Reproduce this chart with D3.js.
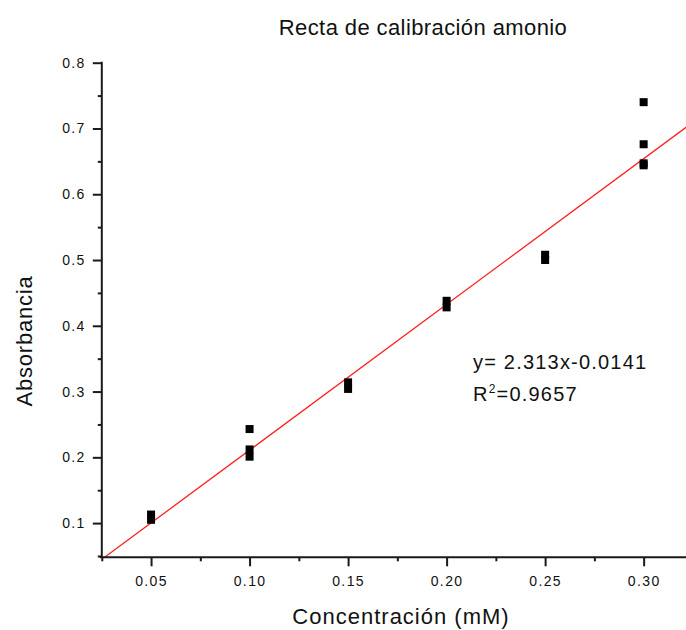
<!DOCTYPE html>
<html>
<head>
<meta charset="utf-8">
<script src="https://cdn.jsdelivr.net/npm/d3@7"></script>
<style>
  html, body { margin: 0; padding: 0; background: #fff; }
  svg { display: block; }
  text { font-family: Arial, "Liberation Sans", sans-serif; fill: #111; }
</style>
</head>
<body>
<svg id="chart" width="686" height="630"></svg>
<script>
// ---- data ----
const concentrations = [0.05, 0.05, 0.10, 0.10, 0.10, 0.15, 0.15, 0.20, 0.20, 0.25, 0.25, 0.30, 0.30, 0.30, 0.30];
const absorbances    = [0.113, 0.105, 0.243, 0.212, 0.201, 0.314, 0.304, 0.438, 0.428, 0.508, 0.500, 0.740, 0.676, 0.647, 0.644];
const xTicks = [0.05, 0.10, 0.15, 0.20, 0.25, 0.30];
const xMinorTicks = [0.025, 0.075, 0.125, 0.175, 0.225, 0.275, 0.325];
const yTicks = [0.1, 0.2, 0.3, 0.4, 0.5, 0.6, 0.7, 0.8];
const yMinorTicks = [0.05, 0.15, 0.25, 0.35, 0.45, 0.55, 0.65, 0.75];
const fitSlope = 2.215;      // drawn fit line
const fitIntercept = -0.0105;
const titleText = "Recta de calibración amonio";
const xTitle = "Concentración (mM)";
const yTitle = "Absorbancia";
const eqLine1 = "y= 2.313x-0.0141";

const svg = d3.select("#chart");
const x = d3.scaleLinear().domain([0.025, 0.325]).range([101.8, 692.9]);
const y = d3.scaleLinear().domain([0.048, 0.8]).range([557.3, 62.7]);

const axisColor = "#1a1a1a";

// clip for plot area
svg.append("defs").append("clipPath").attr("id", "plotclip")
  .append("rect").attr("x", x.range()[0]).attr("y", y.range()[1])
  .attr("width", x.range()[1] - x.range()[0]).attr("height", y.range()[0] - y.range()[1]);

// fit line
const xStart = (y.domain()[0] - fitIntercept) / fitSlope;
const xEnd = x.domain()[1];
svg.append("line")
  .attr("clip-path", "url(#plotclip)")
  .attr("x1", x(xStart)).attr("y1", y(fitSlope * xStart + fitIntercept))
  .attr("x2", x(xEnd)).attr("y2", y(fitSlope * xEnd + fitIntercept))
  .attr("stroke", "#ff2020").attr("stroke-width", 1.3);

// points
const pts = concentrations.map((c, i) => ({c, a: absorbances[i]}));
const sz = 8;
svg.append("g").selectAll("rect").data(pts).join("rect")
  .attr("x", d => x(d.c) - sz / 2)
  .attr("y", d => y(d.a) - sz / 2)
  .attr("width", sz).attr("height", sz)
  .attr("fill", "#000");

// X axis
const xAxis = d3.axisBottom(x).tickValues(xTicks).tickFormat(d3.format(".2f"))
  .tickSize(9).tickPadding(10).tickSizeOuter(0);
const gx = svg.append("g").attr("transform", `translate(0,${y.range()[0]})`).call(xAxis);
gx.select(".domain").attr("stroke", axisColor).attr("stroke-width", 2)
  .attr("d", `M${x.range()[0] - 2},0H${x.range()[1]}`);
gx.selectAll(".tick line").attr("stroke", axisColor).attr("stroke-width", 2);
gx.selectAll(".tick text").attr("font-size", 14).attr("letter-spacing", "1.4px")
  .attr("fill", "#111").attr("font-family", "Arial, 'Liberation Sans', sans-serif");
const xMinor = d3.axisBottom(x).tickValues(xMinorTicks).tickSize(4).tickFormat("").tickSizeOuter(0);
const gxm = svg.append("g").attr("transform", `translate(0,${y.range()[0]})`).call(xMinor);
gxm.select(".domain").remove();
gxm.selectAll(".tick line").attr("stroke", axisColor).attr("stroke-width", 2);

// Y axis
const yAxis = d3.axisLeft(y).tickValues(yTicks).tickFormat(d3.format(".1f"))
  .tickSize(9).tickPadding(7).tickSizeOuter(0);
const gy = svg.append("g").attr("transform", `translate(${x.range()[0]},0)`).call(yAxis);
gy.select(".domain").attr("stroke", axisColor).attr("stroke-width", 2)
  .attr("d", `M0,${y(0.8) - 1}V${y.range()[0]}`);
gy.selectAll(".tick line").attr("stroke", axisColor).attr("stroke-width", 2);
gy.selectAll(".tick text").attr("font-size", 14).attr("letter-spacing", "1.4px")
  .attr("fill", "#111").attr("font-family", "Arial, 'Liberation Sans', sans-serif");
const yMinor = d3.axisLeft(y).tickValues(yMinorTicks).tickSize(4).tickFormat("").tickSizeOuter(0);
const gym = svg.append("g").attr("transform", `translate(${x.range()[0]},0)`).call(yMinor);
gym.select(".domain").remove();
gym.selectAll(".tick line").attr("stroke", axisColor).attr("stroke-width", 2);

// Title
svg.append("text").attr("x", 423).attr("y", 35).attr("text-anchor", "middle")
  .attr("font-size", 22).attr("letter-spacing", "0.4px").text(titleText);

// Axis titles
svg.append("text").attr("x", 401).attr("y", 624).attr("text-anchor", "middle")
  .attr("font-size", 22).attr("letter-spacing", "1px").text(xTitle);
svg.append("text").attr("transform", "translate(32,341) rotate(-90)").attr("text-anchor", "middle")
  .attr("font-size", 22).attr("letter-spacing", "0.8px").text(yTitle);

// Equation annotation
svg.append("text").attr("x", 473).attr("y", 369).attr("font-size", 20).attr("letter-spacing", "1.2px")
  .text(eqLine1);
const r2 = svg.append("text").attr("x", 473).attr("y", 401).attr("font-size", 20).attr("letter-spacing", "1.2px");
r2.append("tspan").text("R");
r2.append("tspan").attr("font-size", 12).attr("dy", -8).text("2");
r2.append("tspan").attr("dy", 8).text("=0.9657");
</script>
</body>
</html>
